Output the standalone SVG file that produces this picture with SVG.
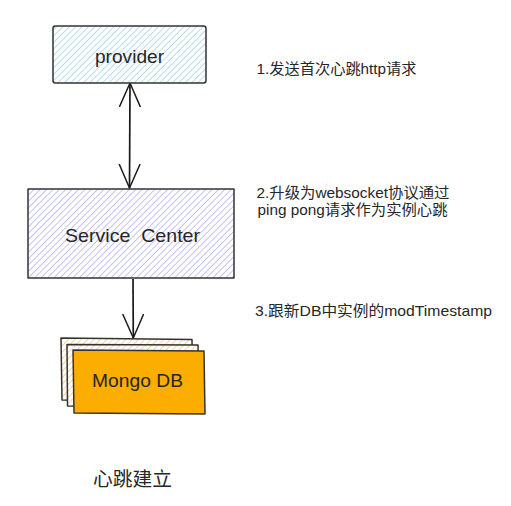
<svg xmlns="http://www.w3.org/2000/svg" width="511" height="506" viewBox="0 0 511 506">
<style>
text{font-family:"Liberation Sans","Noto Sans CJK SC",sans-serif;fill:#262626}
.lbl{font-size:19px;text-anchor:middle}
.note{font-size:14.5px}
.box{stroke:#333;stroke-width:1.5;stroke-linejoin:round}
.conn{stroke:#1a1a1a;stroke-width:1.7;fill:none}
</style>
<defs>
<pattern id="hBlue" patternUnits="userSpaceOnUse" width="4.5" height="4.5" patternTransform="rotate(45)">
<rect width="4.5" height="4.5" fill="#fff"/><line x1="0" y1="0" x2="0" y2="4.5" stroke="#a8d6ea" stroke-width="1.6"/></pattern>
<pattern id="hPurple" patternUnits="userSpaceOnUse" width="4.5" height="4.5" patternTransform="rotate(45)">
<rect width="4.5" height="4.5" fill="#fff"/><line x1="0" y1="0" x2="0" y2="4.5" stroke="#b9b4f2" stroke-width="1.6"/></pattern>
<pattern id="hOrange" patternUnits="userSpaceOnUse" width="4.5" height="4.5" patternTransform="rotate(45)">
<rect width="4.5" height="4.5" fill="#fff"/><line x1="0" y1="0" x2="0" y2="4.5" stroke="#fdd08f" stroke-width="1.8"/></pattern>
<marker id="open" markerUnits="userSpaceOnUse" markerWidth="26" markerHeight="24" viewBox="0 0 26 24" refX="24" refY="11" orient="auto-start-reverse">
<path d="M0,0.5 L24,11 L0,21.5" fill="none" stroke="#1a1a1a" stroke-width="1.5"/></marker>
</defs>
<rect width="511" height="506" fill="#fff"/>
<g id="connectors">
<path class="conn" d="M130,83 L129.5,188" marker-start="url(#open)" marker-end="url(#open)"/>
<path class="conn" d="M133,279 L133.3,338" marker-end="url(#open)"/>
</g>
<g id="provider">
<rect class="box" x="53" y="26" width="153" height="57" rx="2.5" fill="url(#hBlue)"/>
<text class="lbl" x="129.5" y="63" textLength="69" lengthAdjust="spacingAndGlyphs">provider</text>
</g>
<g id="service-center">
<rect class="box" x="28" y="189" width="206" height="89" fill="url(#hPurple)"/>
<text class="lbl" x="132.5" y="242" textLength="135" lengthAdjust="spacingAndGlyphs" xml:space="preserve">Service  Center</text>
</g>
<g id="mongodb">
<path class="box" d="M61,338 L192,339.5 L193,401 L62,400 Z" fill="url(#hOrange)"/>
<path class="box" d="M67,344.5 L198,345 L199,407 L67.5,406 Z" fill="url(#hOrange)"/>
<path class="box" d="M73,350 L204,351 L205,414 L74,413 Z" fill="#fbad00"/>
<text class="lbl" x="137.5" y="387" textLength="91" lengthAdjust="spacingAndGlyphs">Mongo DB</text>
</g>
<g id="notes">
<text class="note" x="256.5" y="74" textLength="160" lengthAdjust="spacingAndGlyphs">1.发送首次心跳http请求</text>
<text class="note" x="256.5" y="198" textLength="193" lengthAdjust="spacingAndGlyphs">2.升级为websocket协议通过</text>
<text class="note" x="257.5" y="214.5" textLength="190" lengthAdjust="spacingAndGlyphs">ping pong请求作为实例心跳</text>
<text class="note" x="255" y="316" textLength="237" lengthAdjust="spacingAndGlyphs">3.跟新DB中实例的modTimestamp</text>
</g>
<g id="caption">
<text x="132.5" y="486" font-size="19" text-anchor="middle" textLength="79" lengthAdjust="spacingAndGlyphs">心跳建立</text>
</g>
</svg>
